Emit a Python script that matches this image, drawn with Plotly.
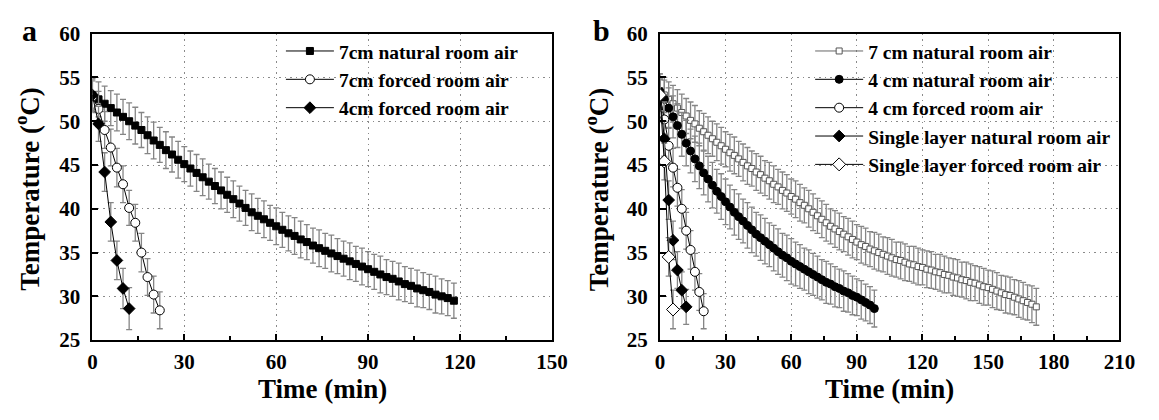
import plotly.graph_objects as go

# ---------------- Panel a data ----------------
a_t_nat7 = list(range(0, 120, 2))
a_nat7 = [53.0, 52.5, 52.0, 51.5, 51.0, 50.5, 50.0, 49.5, 49.0, 48.4,
          47.8, 47.3, 46.7, 46.2, 45.6, 45.1, 44.6, 44.1, 43.6, 43.1,
          42.6, 42.1, 41.6, 41.1, 40.6, 40.1, 39.6, 39.2, 38.8, 38.4,
          38.0, 37.6, 37.2, 36.9, 36.5, 36.2, 35.8, 35.5, 35.2, 34.9,
          34.6, 34.3, 34.0, 33.7, 33.4, 33.1, 32.8, 32.5, 32.2, 32.0,
          31.7, 31.4, 31.2, 30.9, 30.7, 30.5, 30.2, 30.0, 29.8, 29.5]
a_nat7_err = [1.9, 2.0, 2.0, 2.0, 2.1, 2.0, 2.1, 2.1, 2.0, 2.1,
              2.1, 2.0, 2.1, 2.0, 2.1, 2.0, 2.0, 2.1, 2.1, 2.0,
              2.0, 2.1, 2.0, 2.1, 2.0, 2.0, 2.1, 2.0, 2.1, 2.0,
              2.1, 2.0, 2.0, 2.1, 2.1, 2.0, 2.0, 2.1, 2.0, 2.1,
              2.0, 2.0, 2.1, 2.0, 2.1, 2.0, 2.0, 2.1, 2.0, 2.0,
              2.1, 2.0, 2.0, 2.1, 2.0, 2.0, 2.1, 2.0, 2.0, 2.0]

a_t_for7 = [0, 2, 4, 6, 8, 10, 12, 14, 16, 18, 20, 22]
a_for7 = [52.8, 51.4, 49.0, 47.0, 44.7, 42.8, 40.1, 38.4, 35.0, 32.2, 30.2, 28.4]
a_for7_err = [1.8, 2.0, 2.1, 2.1, 2.2, 2.1, 2.0, 2.1, 2.2, 2.1, 2.1, 2.1]

a_t_for4 = [0, 2, 4, 6, 8, 10, 12]
a_for4 = [53.0, 49.7, 44.2, 38.5, 34.1, 30.9, 28.6]
a_for4_err = [1.8, 2.0, 2.2, 2.2, 2.2, 2.3, 2.4]

# ---------------- Panel b data ----------------
b_t_nat7 = list(range(0, 174, 2))
b_nat7 = [53.5, 53.0, 52.5, 52.0, 51.5, 51.0, 50.6, 50.1, 49.7, 49.2,
          48.8, 48.4, 48.0, 47.6, 47.2, 46.8, 46.4, 46.1, 45.7, 45.3,
          44.9, 44.6, 44.2, 43.9, 43.5, 43.2, 42.8, 42.5, 42.1, 41.8,
          41.4, 41.1, 40.7, 40.4, 40.0, 39.6, 39.2, 38.8, 38.4, 38.0,
          37.7, 37.4, 37.1, 36.8, 36.5, 36.2, 35.9, 35.7, 35.4, 35.2,
          35.0, 34.8, 34.6, 34.4, 34.2, 34.1, 33.9, 33.7, 33.6, 33.4,
          33.3, 33.1, 33.0, 32.8, 32.7, 32.5, 32.4, 32.2, 32.1, 31.9,
          31.8, 31.6, 31.5, 31.3, 31.1, 31.0, 30.8, 30.6, 30.4, 30.2,
          30.1, 29.9, 29.7, 29.5, 29.3, 29.1, 28.8]
b_nat7_err = [1.9, 2.0, 2.0, 2.1, 2.1, 2.1, 2.0, 2.1, 2.1, 2.0,
              2.1, 2.1, 2.0, 2.1, 2.1, 2.0, 2.1, 2.1, 2.0, 2.1,
              2.1, 2.0, 2.1, 2.1, 2.0, 2.1, 2.1, 2.0, 2.1, 2.1,
              2.0, 2.1, 2.1, 2.0, 2.1, 2.1, 2.0, 2.1, 2.1, 2.0,
              2.1, 2.1, 2.0, 2.1, 2.1, 2.0, 2.1, 2.1, 2.0, 2.1,
              2.1, 2.0, 2.1, 2.1, 2.0, 2.1, 2.1, 2.0, 2.1, 2.1,
              2.0, 2.1, 2.1, 2.0, 2.1, 2.1, 2.0, 2.1, 2.1, 2.0,
              2.1, 2.1, 2.0, 2.1, 2.1, 2.0, 2.1, 2.1, 2.0, 2.1,
              2.1, 2.0, 2.1, 2.1, 2.0, 2.1, 2.1]

b_t_nat4 = list(range(0, 100, 2))
b_nat4 = [53.4, 52.5, 51.5, 50.5, 49.5, 48.5, 47.5, 46.6, 45.7, 44.9,
          44.1, 43.4, 42.7, 42.0, 41.4, 40.8, 40.2, 39.6, 39.1, 38.6,
          38.1, 37.6, 37.1, 36.7, 36.3, 35.9, 35.5, 35.1, 34.7, 34.4,
          34.0, 33.7, 33.4, 33.1, 32.8, 32.5, 32.2, 31.9, 31.6, 31.4,
          31.1, 30.9, 30.6, 30.4, 30.1, 29.9, 29.6, 29.3, 29.0, 28.6]
b_nat4_err = [2.0, 2.2, 2.3, 2.4, 2.5, 2.5, 2.6, 2.5, 2.6, 2.6,
              2.5, 2.6, 2.6, 2.5, 2.6, 2.6, 2.5, 2.6, 2.6, 2.5,
              2.6, 2.6, 2.5, 2.6, 2.6, 2.5, 2.6, 2.6, 2.5, 2.6,
              2.6, 2.5, 2.5, 2.4, 2.5, 2.4, 2.4, 2.3, 2.4, 2.3,
              2.3, 2.2, 2.3, 2.2, 2.2, 2.1, 2.2, 2.1, 2.1, 2.1]

b_t_for4 = [0, 2, 4, 6, 8, 10, 12, 14, 16, 18, 20]
b_for4 = [53.0, 50.2, 47.2, 44.7, 42.4, 40.0, 37.5, 35.3, 32.8, 30.5, 28.3]
b_for4_err = [1.8, 2.0, 2.1, 2.2, 2.1, 2.2, 2.1, 2.2, 2.1, 2.1, 2.0]

b_t_nat1 = [0, 2, 4, 6, 8, 10, 12]
b_nat1 = [53.0, 48.0, 41.0, 36.4, 33.0, 30.7, 28.8]
b_nat1_err = [1.8, 2.0, 2.2, 2.2, 2.1, 2.1, 2.0]

b_t_for1 = [0, 2, 4, 6]
b_for1 = [53.0, 45.4, 34.5, 28.5]
b_for1_err = [1.8, 2.1, 2.2, 2.2]

names_a = ["7cm natural room air", "7cm forced room air", "4cm forced room air"]
names_b = ["7 cm natural room air", "4 cm natural room air", "4 cm forced room air",
           "Single layer natural room air", "Single layer forced room air"]

x_ticks_a = [0, 30, 60, 90, 120, 150]
x_ticks_b = [0, 30, 60, 90, 120, 150, 180, 210]
y_ticks = [25, 30, 35, 40, 45, 50, 55, 60]

# ---------------- Figure ----------------
W, H = 1159, 420
FONT = "Liberation Serif"
ERRC = "#858585"
GRIDC = "#8a8a8a"
GRIDDASH = "1.5px,4px"

def err(vals):
    return dict(type="data", array=vals, visible=True, color=ERRC, thickness=1.3, width=3)

fig = go.Figure()

def add(x, y, e, name, sym, size, fill, edge, xa, ya, leg, lcol="black"):
    fig.add_trace(go.Scatter(
        x=x, y=y, error_y=err(e), name=name, mode="lines+markers",
        line=dict(color=lcol, width=1),
        marker=dict(symbol=sym, size=size, color=fill, line=dict(color=edge, width=1)),
        xaxis=xa, yaxis=ya, legend=leg))

add(a_t_nat7, a_nat7, a_nat7_err, names_a[0], "square", 7, "black", "black", "x", "y", "legend")
add(a_t_for7, a_for7, a_for7_err, names_a[1], "circle", 9, "white", "black", "x", "y", "legend")
add(a_t_for4, a_for4, a_for4_err, names_a[2], "diamond", 9, "black", "black", "x", "y", "legend")

add(b_t_nat7, b_nat7, b_nat7_err, names_b[0], "square", 6, "white", "#555555", "x2", "y2", "legend2", "#666666")
add(b_t_nat4, b_nat4, b_nat4_err, names_b[1], "circle", 8, "black", "black", "x2", "y2", "legend2")
add(b_t_for4, b_for4, b_for4_err, names_b[2], "circle", 9, "white", "black", "x2", "y2", "legend2")
add(b_t_nat1, b_nat1, b_nat1_err, names_b[3], "diamond", 9, "black", "black", "x2", "y2", "legend2")
add(b_t_for1, b_for1, b_for1_err, names_b[4], "diamond", 10, "white", "black", "x2", "y2", "legend2")

def px_x(p):
    return p / W

def px_y(p):
    return 1 - p / H

tickfont = dict(family=FONT, size=21, color="black", weight="bold")

def xaxis(dom, ticks, rng):
    return dict(domain=dom, range=rng, tickvals=ticks, ticktext=[str(t) for t in ticks],
                showline=True, linecolor="black", linewidth=2, mirror=True,
                ticks="inside", ticklen=6, tickwidth=1.5, tickcolor="black",
                minor=dict(ticks="inside", ticklen=4, tickwidth=1.5, tickcolor="black",
                           dtick=15, showgrid=False),
                showgrid=True, gridcolor=GRIDC, griddash=GRIDDASH, gridwidth=1,
                zeroline=False, tickfont=tickfont, ticklabelstandoff=2)

def yaxis(anchor):
    return dict(domain=[px_y(348), px_y(23)], range=[25, 60], tickvals=y_ticks,
                ticktext=[str(t) for t in y_ticks], anchor=anchor,
                showline=True, linecolor="black", linewidth=2, mirror=True,
                ticks="inside", ticklen=6, tickwidth=1.5, tickcolor="black",
                showgrid=True, gridcolor=GRIDC, griddash=GRIDDASH, gridwidth=1,
                zeroline=False, tickfont=tickfont, ticklabelstandoff=6)

legfont = dict(family=FONT, size=19.5, color="black", weight="bold")

fig.update_layout(
    width=W, height=H, margin=dict(l=0, r=0, t=0, b=0),
    paper_bgcolor="white", plot_bgcolor="white", showlegend=True,
    xaxis=xaxis([px_x(89), px_x(557)], x_ticks_a, [0, 150]),
    yaxis=yaxis("x"),
    xaxis2=xaxis([px_x(667), px_x(1135)], x_ticks_b, [0, 210]),
    yaxis2=yaxis("x2"),
    legend=dict(x=px_x(281), y=px_y(21), xanchor="left", yanchor="top",
                bgcolor="rgba(0,0,0,0)", font=legfont, tracegroupgap=0, itemwidth=48),
    legend2=dict(x=px_x(820), y=px_y(21), xanchor="left", yanchor="top",
                 bgcolor="rgba(0,0,0,0)", font=legfont, tracegroupgap=0, itemwidth=48),
)
fig.layout.xaxis2.anchor = "y2"
fig.layout.xaxis.anchor = "y"

titlefont = dict(family=FONT, size=27, color="black", weight="bold")
ann = [
    dict(text="a", x=px_x(25), y=px_y(20), font=dict(family=FONT, size=30, color="black", weight="bold")),
    dict(text="b", x=px_x(607), y=px_y(20), font=dict(family=FONT, size=30, color="black", weight="bold")),
    dict(text="Time (min)", x=px_x(323), y=px_y(400), font=titlefont),
    dict(text="Time (min)", x=px_x(901), y=px_y(400), font=titlefont),
    dict(text="Temperature (<sup>o</sup>C)", x=px_x(23), y=px_y(188), textangle=-90, font=titlefont),
    dict(text="Temperature (<sup>o</sup>C)", x=px_x(603), y=px_y(188), textangle=-90, font=titlefont),
]
for a in ann:
    fig.add_annotation(xref="paper", yref="paper", showarrow=False,
                       xanchor="center", yanchor="middle", **a)

fig.write_html("out.html", config={"displayModeBar": False},
               post_script="document.body.style.margin='0';")
